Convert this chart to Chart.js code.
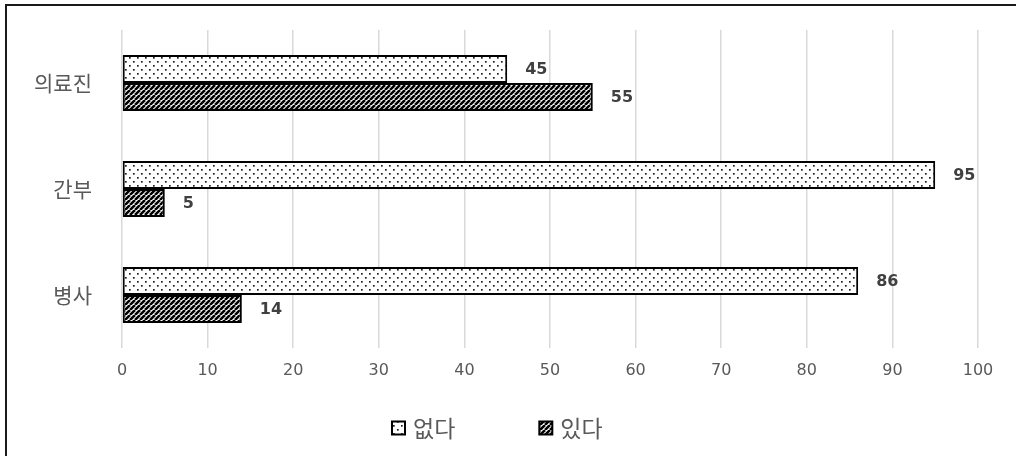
<!DOCTYPE html>
<html>
<head>
<meta charset="utf-8">
<script src="https://cdn.jsdelivr.net/npm/chart.js@4"></script>
<style>
  html, body { margin: 0; padding: 0; background: #fff; }
  #wrap { position: relative; width: 1016px; height: 456px; overflow: hidden; }
  #frame {
    position: absolute; left: 5px; top: 4px; width: 1100px; height: 500px;
    border-top: 2px solid #1a1a1a; border-left: 2px solid #1a1a1a;
  }
  canvas { position: absolute; left: 0; top: 0; }
</style>
</head>
<body>
<div id="wrap">
  <div id="frame"></div>
  <canvas id="chart" width="1016" height="456"></canvas>
</div>
<script>
// Categories and series
const groups = ["의료진", "간부", "병사"];
const seriesNames = ["없다", "있다"];
const noValues = [45, 95, 86];
const yesValues = [55, 5, 14];
const xTicks = [0, 10, 20, 30, 40, 50, 60, 70, 80, 90, 100];

const numFont = "'DejaVu Sans', sans-serif";
const korFont = "'Noto Sans CJK KR', sans-serif";

// Dotted fill
function dotPattern() {
    const c = document.createElement("canvas");
    c.width = 8; c.height = 8;
    const g = c.getContext("2d");
    g.fillStyle = "#fff";
    g.fillRect(0, 0, 8, 8);
    g.fillStyle = "#222";
    g.fillRect(1, 1, 1.7, 1.7);
    g.fillRect(5, 5, 1.7, 1.7);
    return g.createPattern(c, "repeat");
}

// Diagonal hatch fill
function hatchPattern() {
    const s = 5;
    const c = document.createElement("canvas");
    c.width = s; c.height = s;
    const g = c.getContext("2d");
    g.fillStyle = "#fff";
    g.fillRect(0, 0, s, s);
    g.strokeStyle = "#000";
    g.lineWidth = 2.6;
    g.beginPath();
    for (let k = -1; k <= 1; k++) {
        g.moveTo(k * s, s);
        g.lineTo(k * s + s, 0);
    }
    g.stroke();
    return g.createPattern(c, "repeat");
}

const fills = [dotPattern(), hatchPattern()];

// Value labels beside each bar
const valueLabels = {
    id: "valueLabels",
    afterDatasetsDraw(chart) {
        const ctx = chart.ctx;
        ctx.save();
        ctx.font = "bold 16px " + numFont;
        ctx.fillStyle = "#404040";
        ctx.textBaseline = "middle";
        chart.data.datasets.forEach((ds, i) => {
            chart.getDatasetMeta(i).data.forEach((bar, j) => {
                ctx.fillText(String(ds.data[j]), bar.x + 18, bar.y + 1);
            });
        });
        ctx.restore();
    }
};

// Legend row under the axis
const bottomLegend = {
    id: "bottomLegend",
    afterDraw(chart) {
        const ctx = chart.ctx;
        ctx.save();
        ctx.font = "23px " + korFont;
        ctx.textBaseline = "middle";
        const box = 13, gapText = 8, gapItem = 84;
        const widths = seriesNames.map(n => box + gapText + ctx.measureText(n).width);
        let x = 392;
        const y = 428;
        seriesNames.forEach((n, i) => {
            ctx.fillStyle = fills[i];
            ctx.fillRect(x, y - box / 2, box, box);
            ctx.strokeStyle = "#000";
            ctx.lineWidth = 2;
            ctx.strokeRect(x, y - box / 2, box, box);
            ctx.fillStyle = "#595959";
            ctx.fillText(n, x + box + gapText, y);
            x += widths[i] + gapItem;
        });
        ctx.restore();
    }
};

new Chart(document.getElementById("chart").getContext("2d"), {
    type: "bar",
    data: {
        labels: groups,
        datasets: [
            { label: seriesNames[0], data: noValues, backgroundColor: fills[0] },
            { label: seriesNames[1], data: yesValues, backgroundColor: fills[1] }
        ]
    },
    options: {
        indexAxis: "y",
        responsive: false,
        animation: false,
        layout: { padding: { left: 0, right: 38, top: 30, bottom: 0 } },
        datasets: {
            bar: {
                categoryPercentage: 0.53,
                barPercentage: 1.0,
                borderColor: "#000",
                borderWidth: 2,
                borderSkipped: false
            }
        },
        scales: {
            x: {
                min: 0,
                max: 100,
                afterBuildTicks(scale) {
                    scale.ticks = xTicks.map(v => ({ value: v }));
                },
                grid: { color: "#d9d9d9", lineWidth: 1.5, drawTicks: false },
                border: { display: false },
                ticks: {
                    padding: 13,
                    color: "#595959",
                    font: { family: numFont, size: 16 }
                },
                afterFit(scale) { scale.height = 108; }
            },
            y: {
                grid: { display: false },
                border: { display: false },
                ticks: {
                    padding: 22,
                    color: "#595959",
                    font: { family: korFont, size: 21 }
                },
                afterFit(scale) {
                    scale.width = 122;
                    scale.paddingTop = 0;
                    scale.paddingBottom = 0;
                }
            }
        },
        plugins: {
            legend: { display: false },
            tooltip: { enabled: false }
        }
    },
    plugins: [valueLabels, bottomLegend]
});
</script>
</body>
</html>
